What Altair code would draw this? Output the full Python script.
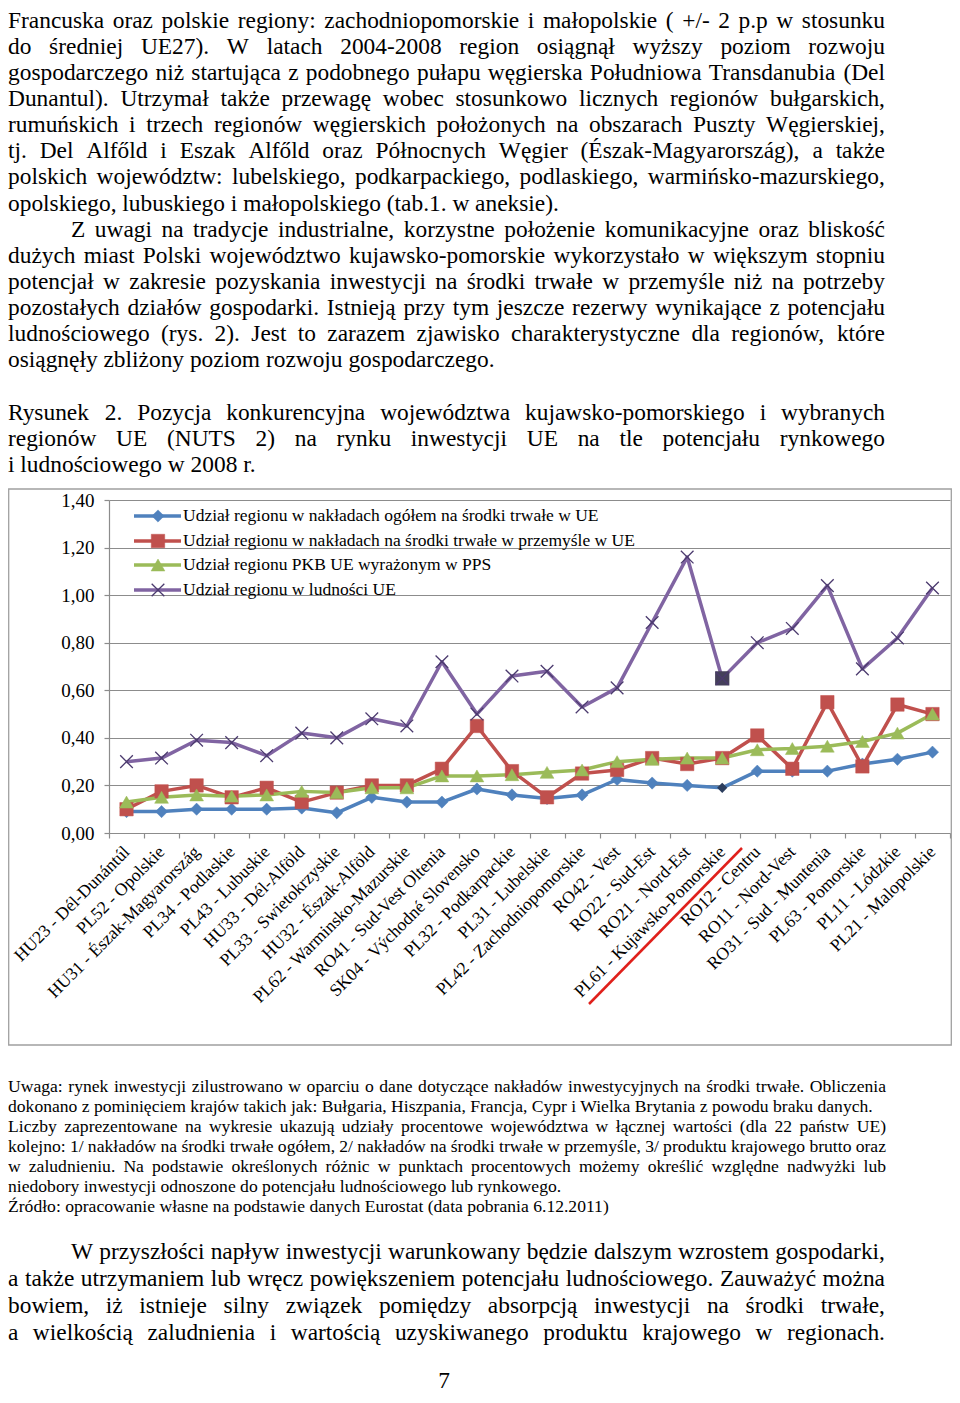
import unicodedata
import altair as alt
import pandas as pd

# ---------------- data ----------------
regions = [
    "HU23 - Dél-Dunántúl", "PL52 - Opolskie", "HU31 - Észak-Magyarország", "PL34 - Podlaskie",
    "PL43 - Lubuskie", "HU33 - Dél-Alföld", "PL33 - Swietokrzyskie", "HU32 - Észak-Alföld",
    "PL62 - Warminsko-Mazurskie", "RO41 - Sud-Vest Oltenia", "SK04 - Východné Slovensko",
    "PL32 - Podkarpackie", "PL31 - Lubelskie", "PL42 - Zachodniopomorskie", "RO42 - Vest",
    "RO22 - Sud-Est", "RO21 - Nord-Est", "PL61 - Kujawsko-Pomorskie", "RO12 - Centru",
    "RO11 - Nord-Vest", "RO31 - Sud - Muntenia", "PL63 - Pomorskie", "PL11 - Lódzkie",
    "PL21 - Malopolskie",
]
inv_total = [0.09, 0.09, 0.10, 0.10, 0.10, 0.105, 0.085, 0.15, 0.13, 0.13, 0.185, 0.16,
             0.145, 0.16, 0.225, 0.21, 0.20, 0.19, 0.26, 0.26, 0.26, 0.29, 0.31, 0.34]
inv_industry = [0.10, 0.175, 0.20, 0.15, 0.19, 0.13, 0.17, 0.20, 0.20, 0.27, 0.45, 0.26,
                0.15, 0.25, 0.265, 0.315, 0.29, 0.315, 0.41, 0.27, 0.55, 0.28, 0.54, 0.50]
gdp_pps = [0.13, 0.15, 0.16, 0.155, 0.16, 0.175, 0.17, 0.19, 0.19, 0.24, 0.24, 0.245,
           0.255, 0.265, 0.30, 0.31, 0.315, 0.315, 0.35, 0.355, 0.365, 0.385, 0.42, 0.50]
population = [0.30, 0.315, 0.39, 0.38, 0.325, 0.42, 0.40, 0.48, 0.45, 0.72, 0.50, 0.66,
              0.68, 0.53, 0.61, 0.885, 1.16, 0.65, 0.80, 0.86, 1.04, 0.69, 0.82, 1.03]

series_names = [
    "Udział regionu w nakładach ogółem na  środki trwałe w UE",
    "Udział regionu w nakładach na  środki trwałe w przemyśle  w UE",
    "Udział  regionu PKB  UE wyrażonym w PPS",
    "Udział regionu w ludności UE",
]
series_colors = ["#4f81bd", "#c0504d", "#9bbb59", "#8064a2"]
highlight_region = "PL61 - Kujawsko-Pomorskie"
y_ticks = [0, 0.2, 0.4, 0.6, 0.8, 1.0, 1.2, 1.4]

top_lines = [
    "Francuska oraz polskie regiony: zachodniopomorskie i małopolskie ( +/- 2 p.p w stosunku",
    "do średniej UE27). W latach 2004-2008 region osiągnął wyższy poziom rozwoju",
    "gospodarczego niż startująca z podobnego pułapu węgierska Południowa Transdanubia (Del",
    "Dunantul). Utrzymał także przewagę wobec stosunkowo licznych regionów bułgarskich,",
    "rumuńskich i trzech regionów węgierskich położonych na obszarach Puszty Węgierskiej,",
    "tj. Del Alfőld i Eszak Alfőld oraz Północnych Węgier (Észak-Magyarország), a także",
    "polskich województw: lubelskiego, podkarpackiego, podlaskiego, warmińsko-mazurskiego,",
    "opolskiego, lubuskiego i małopolskiego (tab.1. w aneksie).",
    "Z uwagi na tradycje industrialne, korzystne położenie komunikacyjne oraz bliskość",
    "dużych miast Polski województwo kujawsko-pomorskie wykorzystało w większym stopniu",
    "potencjał w zakresie pozyskania inwestycji na środki trwałe w przemyśle niż na potrzeby",
    "pozostałych działów gospodarki. Istnieją przy tym jeszcze rezerwy wynikające z potencjału",
    "ludnościowego (rys. 2). Jest to zarazem zjawisko charakterystyczne dla regionów, które",
    "osiągnęły zbliżony poziom rozwoju gospodarczego.",
]
caption_lines = [
    "Rysunek 2. Pozycja konkurencyjna województwa kujawsko-pomorskiego i wybranych",
    "regionów UE (NUTS 2) na rynku inwestycji UE na tle potencjału rynkowego",
    "i ludnościowego w 2008 r.",
]
note_lines = [
    "Uwaga: rynek inwestycji zilustrowano w oparciu o dane dotyczące nakładów inwestycyjnych na środki trwałe. Obliczenia",
    "dokonano z pominięciem krajów takich jak: Bułgaria, Hiszpania, Francja, Cypr i Wielka Brytania z powodu braku danych.",
    "Liczby zaprezentowane na wykresie ukazują udziały procentowe województwa w łącznej wartości (dla 22 państw UE)",
    "kolejno: 1/ nakładów na środki trwałe ogółem, 2/ nakładów na środki trwałe w przemyśle, 3/ produktu krajowego brutto oraz",
    "w zaludnieniu. Na podstawie określonych różnic w punktach procentowych możemy określić względne nadwyżki lub",
    "niedobory inwestycji odnoszone do potencjału ludnościowego lub rynkowego.",
    "Źródło: opracowanie własne na podstawie danych Eurostat (data pobrania 6.12.2011)",
]
bottom_lines = [
    "W przyszłości napływ inwestycji warunkowany będzie dalszym wzrostem gospodarki,",
    "a także utrzymaniem lub wręcz powiększeniem potencjału ludnościowego. Zauważyć można",
    "bowiem, iż istnieje silny związek pomiędzy absorpcją inwestycji na środki trwałe,",
    "a wielkością zaludnienia i wartością uzyskiwanego produktu krajowego w regionach.",
]
page_number = "7"

# ---------------- layout helpers ----------------
FONT = "Liberation Serif"
GRAY = "#8c8c8c"
PX0, PY0 = 109, 500          # page position of the plot origin
PW, PH = 841, 333             # plot area size
CANVAS_W, CANVAS_H = 944, 1387

def vx(px):
    return px - PX0

def vy(py):
    return py - PY0

# Times / Liberation Serif advance widths (1/1000 em)
_W = {' ': 250, 'a': 444, 'b': 500, 'c': 444, 'd': 500, 'e': 444, 'f': 333, 'g': 500, 'h': 500,
      'i': 278, 'j': 278, 'k': 500, 'l': 278, 'm': 778, 'n': 500, 'o': 500, 'p': 500, 'q': 500,
      'r': 333, 's': 389, 't': 278, 'u': 500, 'v': 500, 'w': 722, 'x': 500, 'y': 500, 'z': 444,
      'A': 722, 'B': 667, 'C': 667, 'D': 722, 'E': 611, 'F': 556, 'G': 722, 'H': 722, 'I': 333,
      'J': 389, 'K': 722, 'L': 611, 'M': 889, 'N': 722, 'O': 722, 'P': 556, 'Q': 722, 'R': 667,
      'S': 556, 'T': 611, 'U': 722, 'V': 722, 'W': 944, 'X': 722, 'Y': 722, 'Z': 611,
      '.': 250, ',': 250, ':': 278, ';': 278, '-': 333, '(': 333, ')': 333, '/': 278, '+': 564,
      'ł': 278, 'Ł': 611}

def cw(c):
    if c in _W:
        return _W[c]
    base = unicodedata.normalize("NFD", c)[0]
    return _W.get(base, 500)

def tw(s, fs):
    return sum(cw(c) for c in s) / 1000.0 * fs

def layout(lines, baselines, lefts, justify, right, fs):
    rows = []
    for line, yb, x0, j in zip(lines, baselines, lefts, justify):
        words = line.split()
        if j and len(words) > 1:
            total = sum(tw(w, fs) for w in words)
            gap = (right - x0 - total) / (len(words) - 1)
            x = x0
            for w in words:
                rows.append({"x": vx(x), "y": vy(yb), "t": w})
                x += tw(w, fs) + gap
        else:
            rows.append({"x": vx(x0), "y": vy(yb), "t": line})
    return pd.DataFrame(rows)

BODY_FS = 23.4
NOTE_FS = 17.6

n_top = len(top_lines)
top_base = [28 + k * (367 - 28) / (n_top - 1) for k in range(n_top)]
top_left = [71 if k == 8 else 8 for k in range(n_top)]
top_just = [k not in (7, 13) for k in range(n_top)]
top_df = layout(top_lines, top_base, top_left, top_just, 885, BODY_FS)

cap_df = layout(caption_lines, [420, 446, 472], [8, 8, 8], [True, True, False], 885, BODY_FS)
note_df = layout(note_lines, [1092 + 20 * k for k in range(7)], [8] * 7,
                 [True, False, True, True, True, False, False], 886, NOTE_FS)
bot_df = layout(bottom_lines, [1259 + 27 * k for k in range(4)], [71, 8, 8, 8],
                [True, True, True, True], 885, BODY_FS)
body_df = pd.concat([top_df, cap_df, bot_df], ignore_index=True)

# ---------------- chart data ----------------
rows = []
for i, r in enumerate(regions):
    for name, vals in zip(series_names, [inv_total, inv_industry, gdp_pps, population]):
        rows.append({"region": r, "idx": i, "series": name, "value": vals[i]})
df = pd.DataFrame(rows)

legend_df = pd.DataFrame({"series": series_names,
                          "ly": [vy(516), vy(541), vy(565), vy(590)]})

cscale = alt.Scale(domain=series_names, range=series_colors)

x_enc = alt.X(
    "region:N", sort=regions,
    scale=alt.Scale(type="band", domain=regions, paddingInner=0, paddingOuter=0),
    axis=alt.Axis(title=None, labelAngle=-45, labelAlign="right", labelBaseline="middle",
                  labelFont=FONT, labelFontSize=17.6, labelColor="#000", labelPadding=11,
                  labelLimit=500, labelOverlap=False, tickBand="extent", tickSize=5,
                  tickColor=GRAY, tickWidth=1.2, domainColor=GRAY, domainWidth=1.2, grid=False),
)
y_enc = alt.Y(
    "value:Q",
    scale=alt.Scale(domain=[0, 1.4], nice=False, zero=True),
    axis=alt.Axis(title=None, values=y_ticks,
                  labelExpr="replace(format(datum.value, '.2f'), '.', ',')",
                  grid=True, gridColor=GRAY, gridWidth=1.2, domainColor=GRAY, domainWidth=1.2,
                  tickColor=GRAY, tickSize=5, tickWidth=1.2, labelFont=FONT, labelFontSize=19,
                  labelColor="#000", labelPadding=10),
)

base = alt.Chart(df)

frame = alt.Chart(pd.DataFrame({"a": [0]})).mark_rect(
    filled=False, stroke="#a0a0a0", strokeWidth=1.3
).encode(x=alt.value(vx(8.7)), x2=alt.value(vx(951.3)), y=alt.value(vy(489)), y2=alt.value(vy(1045)))

lines = base.mark_line(strokeWidth=3.5, strokeJoin="round").encode(
    x=x_enc, y=y_enc, color=alt.Color("series:N", scale=cscale, legend=None),
    order=alt.Order("idx:Q"),
)

XPATH = "M-1,-1L1,1M-1,1L1,-1"

def marker_layers(name, color, shape, size, filled=True, stroke=None, sw=1.0, extra_filter=None):
    d = base.transform_filter(alt.datum.series == name)
    if extra_filter is not None:
        d = d.transform_filter(extra_filter)
    lg = alt.Chart(legend_df).transform_filter(alt.datum.series == name)
    if filled:
        kw = dict(shape=shape, filled=True, fill=color, stroke=color, strokeWidth=0.5, size=size, opacity=1)
    else:
        kw = dict(shape=shape, filled=False, stroke=stroke, strokeWidth=sw, size=size, opacity=1)
    m = d.mark_point(**kw).encode(x=x_enc, y=y_enc)
    ml = lg.mark_point(**kw).encode(x=alt.value(vx(158)), y=alt.Y("ly:Q", scale=None, axis=None))
    return [m, ml]

not_hl = alt.datum.region != highlight_region
blue_m = marker_layers(series_names[0], series_colors[0], "diamond", 150, extra_filter=not_hl)
red_m = marker_layers(series_names[1], series_colors[1], "square", 180)
green_m = marker_layers(series_names[2], series_colors[2], "triangle-up", 190)
purple_m = marker_layers(series_names[3], None, XPATH, 160, filled=False, stroke="#4b3a6e", sw=1.3)

hl_pop = base.transform_filter((alt.datum.series == series_names[3]) & (alt.datum.region == highlight_region)).mark_point(
    shape="square", filled=True, fill="#45405a", stroke="#45405a", size=150, opacity=1
).encode(x=x_enc, y=y_enc)
hl_tot = base.transform_filter((alt.datum.series == series_names[0]) & (alt.datum.region == highlight_region)).mark_point(
    shape="diamond", filled=True, fill="#2c3e5e", stroke="#2c3e5e", size=55, opacity=1
).encode(x=x_enc, y=y_enc)

leg_rules = alt.Chart(legend_df).mark_rule(strokeWidth=3.5).encode(
    x=alt.value(vx(134)), x2=alt.value(vx(181)),
    y=alt.Y("ly:Q", scale=None, axis=None),
    color=alt.Color("series:N", scale=cscale, legend=None),
)
leg_text = alt.Chart(legend_df).mark_text(
    font=FONT, fontSize=17.5, align="left", baseline="middle", color="#000"
).encode(x=alt.value(vx(183)), y=alt.Y("ly:Q", scale=None, axis=None), text="series:N")

red_mark = alt.Chart(pd.DataFrame({"a": [0]})).mark_rule(color="#e0201b", strokeWidth=2.5).encode(
    x=alt.value(vx(589)), x2=alt.value(vx(742)), y=alt.value(vy(1004)), y2=alt.value(vy(848))
)

def text_layer(d, fs):
    return alt.Chart(d).mark_text(
        font=FONT, fontSize=fs, align="left", baseline="alphabetic", color="#000"
    ).encode(x=alt.X("x:Q", scale=None, axis=None), y=alt.Y("y:Q", scale=None, axis=None), text="t:N")

body_text = text_layer(body_df, BODY_FS)
note_text = text_layer(note_df, NOTE_FS)
page_text = alt.Chart(pd.DataFrame({"t": [page_number]})).mark_text(
    font=FONT, fontSize=BODY_FS, align="center", baseline="alphabetic", color="#000"
).encode(x=alt.value(vx(444)), y=alt.value(vy(1388)), text="t:N")

layers = [frame, lines, leg_rules] + blue_m + red_m + green_m + [hl_pop] + purple_m + [
    hl_tot, leg_text, red_mark, body_text, note_text, page_text]

chart = alt.layer(*layers).properties(
    width=PW, height=PH,
    autosize=alt.AutoSizeParams(type="none"),
    padding={"left": PX0 - 8, "top": PY0 - 8,
             "right": CANVAS_W - (PX0 - 8) - PW, "bottom": CANVAS_H - (PY0 - 8) - PH},
).configure_view(stroke=None)

chart.save("out.html", embed_options={"renderer": "svg", "actions": False})
